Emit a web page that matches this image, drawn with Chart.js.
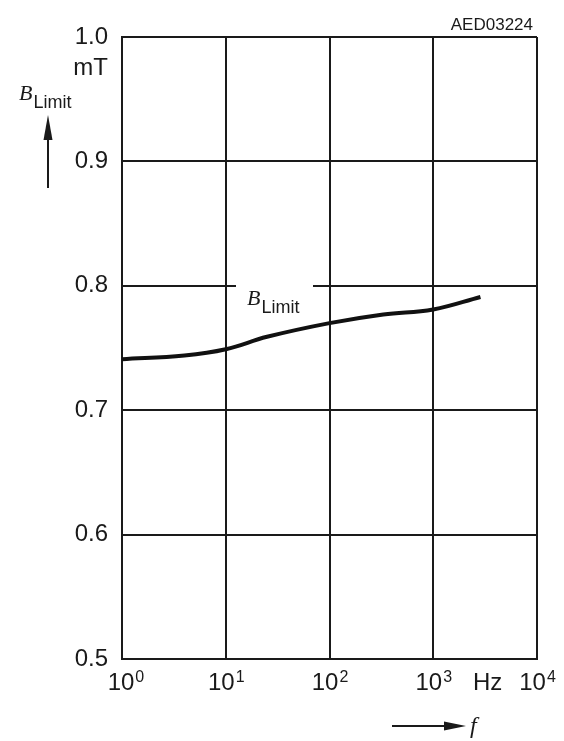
<!DOCTYPE html>
<html>
<head>
<meta charset="utf-8">
<script src="https://cdn.jsdelivr.net/npm/chart.js@4.4.1/dist/chart.umd.min.js"></script>
<style>
    html, body { margin: 0; padding: 0; background: #fff; }
    #wrap { width: 564px; height: 741px; }
</style>
</head>
<body>
<div id="wrap"><canvas id="bLimitChart" width="564" height="741"></canvas></div>
<script>
// frequency in Hz and B_Limit in mT
const freqs = [1, 4, 10, 25, 100, 330, 1000, 2850];
const bLimit = [0.741, 0.744, 0.749, 0.759, 0.770, 0.777, 0.781, 0.791];
const xDecades = [1, 10, 100, 1000, 10000];
const xExponents = ['0', '1', '2', '3', '4'];
const yTicks = [0.5, 0.6, 0.7, 0.8, 0.9, 1.0];

const ink = '#1a1a1a';
const sans = '"Liberation Sans", Arial, sans-serif';
const serif = '"Liberation Serif", "Times New Roman", serif';

// arrow helper
function arrow(ctx, x1, y1, x2, y2, headLen, headHalf) {
    const ang = Math.atan2(y2 - y1, x2 - x1);
    const bx = x2 - headLen * Math.cos(ang), by = y2 - headLen * Math.sin(ang);
    ctx.beginPath();
    ctx.moveTo(x1, y1);
    ctx.lineTo(bx, by);
    ctx.stroke();
    ctx.beginPath();
    ctx.moveTo(x2, y2);
    ctx.lineTo(bx + headHalf * Math.sin(ang), by - headHalf * Math.cos(ang));
    ctx.lineTo(bx - headHalf * Math.sin(ang), by + headHalf * Math.cos(ang));
    ctx.closePath();
    ctx.fill();
}

// B with sans subscript
function bSub(ctx, x, y) {
    ctx.textAlign = 'left';
    ctx.textBaseline = 'alphabetic';
    ctx.font = 'italic 22px ' + serif;
    ctx.fillText('B', x, y);
    const w = ctx.measureText('B').width;
    ctx.font = '18px ' + sans;
    ctx.fillText('Limit', x + w + 1, y + 8);
}

const annotations = {
    id: 'annotations',
    afterDraw(chart) {
        const ctx = chart.ctx;
        const xs = chart.scales.x, ys = chart.scales.y;
        ctx.save();
        ctx.fillStyle = ink;
        ctx.strokeStyle = ink;

        // x tick labels 10^n
        const baseY = 690;
        xDecades.forEach((v, i) => {
            const px = xs.getPixelForValue(v);
            ctx.font = '24px ' + sans;
            const wBase = ctx.measureText('10').width;
            ctx.font = '16px ' + sans;
            const wSup = ctx.measureText(xExponents[i]).width;
            let left = px - (wBase + wSup) / 2;
            if (i === 0) left = px - wBase / 2 - 1;
            ctx.textAlign = 'left';
            ctx.textBaseline = 'alphabetic';
            ctx.font = '24px ' + sans;
            ctx.fillText('10', left, baseY);
            ctx.font = '16px ' + sans;
            ctx.fillText(xExponents[i], left + wBase + 1, baseY - 8);
        });
        ctx.font = '24px ' + sans;
        ctx.fillText('Hz', 473, baseY);

        // unit under top y label
        ctx.textAlign = 'right';
        ctx.fillText('mT', 108, 75);

        // chart code
        ctx.font = '17px ' + sans;
        ctx.fillText('AED03224', 533, 30);

        // y axis title with arrow
        bSub(ctx, 19, 100);
        ctx.lineWidth = 2;
        arrow(ctx, 48, 188, 48, 115, 25, 4.5);

        // x axis title with arrow
        arrow(ctx, 392, 726, 466, 726, 22, 4.5);
        ctx.font = 'italic 24px ' + serif;
        ctx.textAlign = 'left';
        ctx.fillText('f', 470, 733);

        // curve label, gap in gridline
        const y08 = ys.getPixelForValue(0.8);
        ctx.fillStyle = '#fff';
        ctx.fillRect(236, y08 - 3, 77, 6);
        ctx.fillStyle = ink;
        bSub(ctx, 247, 305);

        ctx.restore();
    }
};

const data = {
    datasets: [{
        label: 'B Limit',
        data: freqs.map((f, i) => ({ x: f, y: bLimit[i] })),
        borderColor: '#111',
        borderWidth: 4,
        pointRadius: 0,
        fill: false,
        tension: 0.4,
        borderCapStyle: 'butt'
    }]
};

const config = {
    type: 'line',
    data: data,
    options: {
        responsive: false,
        animation: false,
        layout: { padding: { top: 37, right: 27, bottom: 82, left: 0 } },
        plugins: {
            legend: { display: false },
            tooltip: { enabled: false }
        },
        scales: {
            x: {
                type: 'logarithmic',
                min: 1,
                max: 10000,
                afterBuildTicks: function(scale) {
                    scale.ticks = xDecades.map(v => ({ value: v }));
                },
                afterFit: function(scale) { scale.height = 0; },
                ticks: { display: false },
                grid: { color: ink, lineWidth: 2, drawTicks: false },
                border: { color: ink, width: 2 }
            },
            y: {
                type: 'linear',
                min: 0.5,
                max: 1.0,
                afterBuildTicks: function(scale) {
                    scale.ticks = yTicks.map(v => ({ value: v }));
                },
                afterFit: function(scale) { scale.width = 122; },
                ticks: {
                    padding: 14,
                    color: ink,
                    font: { family: sans, size: 24 },
                    callback: function(value) { return Number(value).toFixed(1); }
                },
                grid: { color: ink, lineWidth: 2, drawTicks: false },
                border: { color: ink, width: 2 }
            }
        }
    },
    plugins: [annotations]
};

const bLimitChart = new Chart(document.getElementById('bLimitChart').getContext('2d'), config);
</script>
</body>
</html>
